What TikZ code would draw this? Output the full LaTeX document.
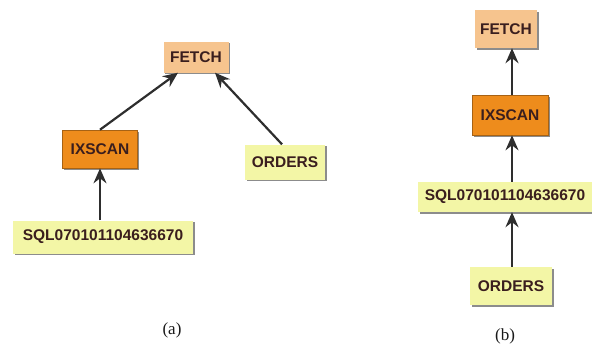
\documentclass[tikz,border=0pt]{standalone}
\usepackage{fontspec}
\setmainfont{Liberation Serif}
\setsansfont{Liberation Sans}
\usetikzlibrary{arrows.meta,shadows,calc}
\definecolor{fetchc}{HTML}{F6C48E}
\definecolor{ixc}{HTML}{EE8C1C}
\definecolor{leafc}{HTML}{F3F6A6}
\definecolor{txtc}{HTML}{3A1E1E}
\definecolor{arrc}{HTML}{2E2E2E}
\tikzset{
  box/.style={draw=none, inner sep=0pt, text=txtc,
    font=\sffamily\bfseries\fontsize{15.5}{17}\selectfont,
    drop shadow={shadow xshift=1.6pt, shadow yshift=-1.6pt, fill=black!45, opacity=1}},
  fetchbox/.style={box, fill=fetchc},
  ixbox/.style={box, fill=ixc, draw=ixc!70!black, line width=0.6pt},
  leafbox/.style={box, fill=leafc},
  conn/.style={draw=arrc, line width=2.2pt, -{Stealth[length=15pt,width=13pt,inset=5pt]}},
  sublabel/.style={font=\fontsize{17}{19}\selectfont, text=black!90}
}
\begin{document}
\begin{tikzpicture}[x=1pt,y=1pt]
\useasboundingbox (0,0) rectangle (592,-349);
% (a)
\node[fetchbox, minimum width=65pt, minimum height=31pt] (fa) at (196,-57) {FETCH};
\node[ixbox, minimum width=75pt, minimum height=38pt] (ia) at (100,-149) {IXSCAN};
\node[leafbox, minimum width=80pt, minimum height=35pt] (oa) at (285,-162) {ORDERS};
\node[leafbox, minimum width=180pt, minimum height=33pt] (sa) at (103,-237) {SQL070101104636670};
\draw[conn] (ia.south |- sa.north) -- (ia.south);
\draw[conn] (ia.north) -- ([xshift=-18pt]fa.south);
\draw[conn] ([xshift=-3pt]oa.north) -- ([xshift=19pt]fa.south);
\node[sublabel] (la) at (172,-330) {(a)};
% (b)
\node[fetchbox, minimum width=62pt, minimum height=38pt] (fb) at (506,-29) {FETCH};
\node[ixbox, minimum width=76pt, minimum height=40pt] (ib) at (510,-115) {IXSCAN};
\node[leafbox, minimum width=174pt, minimum height=30pt] (sb) at (505,-197) {SQL070101104636670};
\node[leafbox, minimum width=82pt, minimum height=38pt] (ob) at (511,-286) {ORDERS};
\coordinate (cx) at (512,0);
\draw[conn] (cx |- ib.north) -- (cx |- fb.south);
\draw[conn] (cx |- sb.north) -- (cx |- ib.south);
\draw[conn] (cx |- ob.north) -- (cx |- sb.south);
\node[sublabel] (lb) at (505,-336) {(b)};
\end{tikzpicture}
\end{document}
